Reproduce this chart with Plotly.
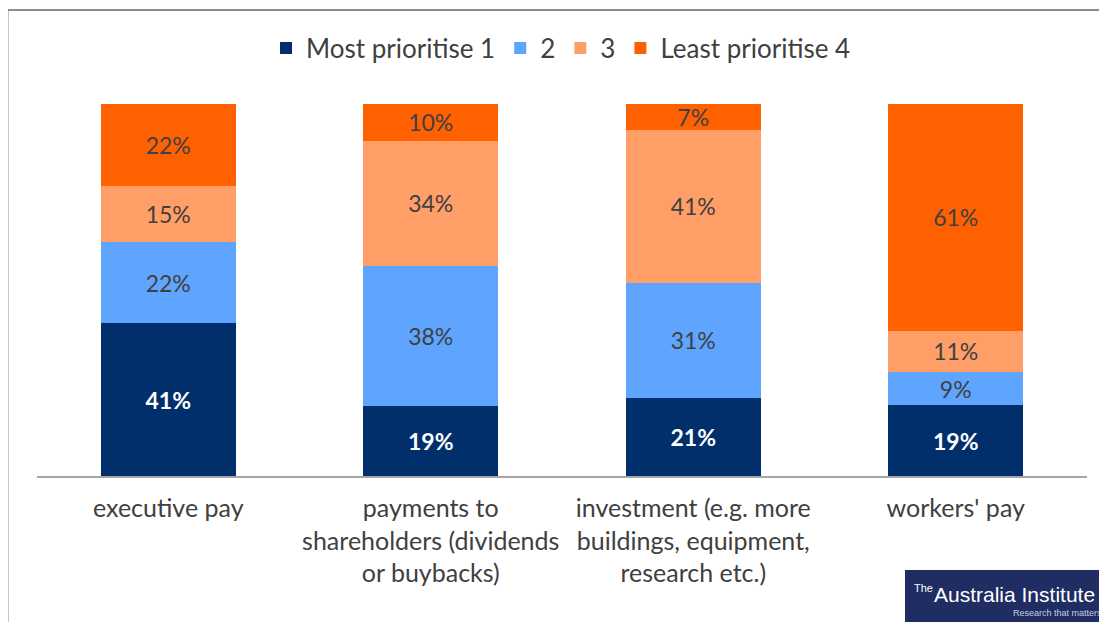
import plotly.graph_objects as go

categories = ["executive pay",
              "payments to<br>shareholders (dividends<br>or buybacks)",
              "investment (e.g. more<br>buildings, equipment,<br>research etc.)",
              "workers' pay"]
series_names = ["Most prioritise 1", "2", "3", "Least prioritise 4"]
most_1 = [41, 19, 21, 19]
rank_2 = [22, 38, 31, 9]
rank_3 = [15, 34, 41, 11]
least_4 = [22, 10, 7, 61]
colors = ["#002F6C", "#5FA5FF", "#FF9E66", "#FF6000"]
text_colors = ["white", "#404040", "#404040", "#404040"]

FONT = "Lato, 'Open Sans', sans-serif"

# plot area in screenshot pixels: x 37..1087, y 104..476 (page has 8px body margin)
OFF = 8
PX_L, PX_R, PX_T, PX_B = 37, 1087, 104, 476
def px(x):
    return (x - PX_L) / (PX_R - PX_L)
def py(y):
    return (PX_B - y) / (PX_B - PX_T)

fig = go.Figure()
for name, vals, col, tcol in zip(series_names, [most_1, rank_2, rank_3, least_4], colors, text_colors):
    fig.add_trace(go.Bar(
        x=categories, y=vals, name=name,
        marker=dict(color=col, line=dict(width=0)),
        text=[f"{v}%" for v in vals],
        textposition="inside", insidetextanchor="middle",
        textfont=dict(color=tcol, size=23, family=FONT,
                      weight="bold" if tcol == "white" else "normal"),
        width=0.513,
    ))

fig.update_layout(
    barmode="stack", barnorm="percent",
    width=1107, height=622,
    margin=dict(l=PX_L - OFF, r=1107 - (PX_R - OFF), t=PX_T - OFF, b=622 - (PX_B - OFF),
                autoexpand=False),
    paper_bgcolor="white", plot_bgcolor="white",
    font=dict(family=FONT, size=25, color="#404040"),
    uniformtext=dict(minsize=23, mode="show"),
    showlegend=True,
    legend=dict(orientation="h", x=px(561), xanchor="center", y=py(48), yanchor="middle",
                font=dict(size=26, color="#404040"), traceorder="normal",
                bgcolor="rgba(0,0,0,0)", itemwidth=30),
    xaxis=dict(showline=True, linecolor="#A6A6A6", linewidth=2, ticks="",
               ticklabelstandoff=9,
               tickfont=dict(size=25, color="#404040"), fixedrange=True, automargin=False),
    yaxis=dict(visible=False, range=[0, 100], showgrid=False, automargin=False),
    shapes=[
        dict(type="line", xref="paper", yref="paper", x0=px(7.5), x1=px(1130), y0=py(10), y1=py(10),
             line=dict(color="#8C8C8C", width=2)),
        dict(type="line", xref="paper", yref="paper", x0=px(7.5), x1=px(7.5), y0=py(640), y1=py(10),
             line=dict(color="#8C8C8C", width=2)),
        dict(type="rect", xref="paper", yref="paper", x0=px(905), x1=px(1130), y0=py(640), y1=py(570),
             fillcolor="#1F2D63", line=dict(width=0)),
    ],
    annotations=[
        dict(xref="paper", yref="paper", x=px(935), y=py(588), xanchor="right", yanchor="middle",
             text="The", showarrow=False,
             font=dict(family="'Liberation Sans Narrow', sans-serif", size=11, color="white")),
        dict(xref="paper", yref="paper", x=px(932), y=py(594), xanchor="left", yanchor="middle",
             text="Australia Institute", showarrow=False,
             font=dict(family="'Liberation Sans Narrow', sans-serif", size=21, color="white")),
        dict(xref="paper", yref="paper", x=px(1104), y=py(613), xanchor="right", yanchor="middle",
             text="Research that matters", showarrow=False,
             font=dict(family="'Liberation Sans Narrow', sans-serif", size=9, color="#C8CCE0")),
    ],
)

fig.write_html("out.html")
